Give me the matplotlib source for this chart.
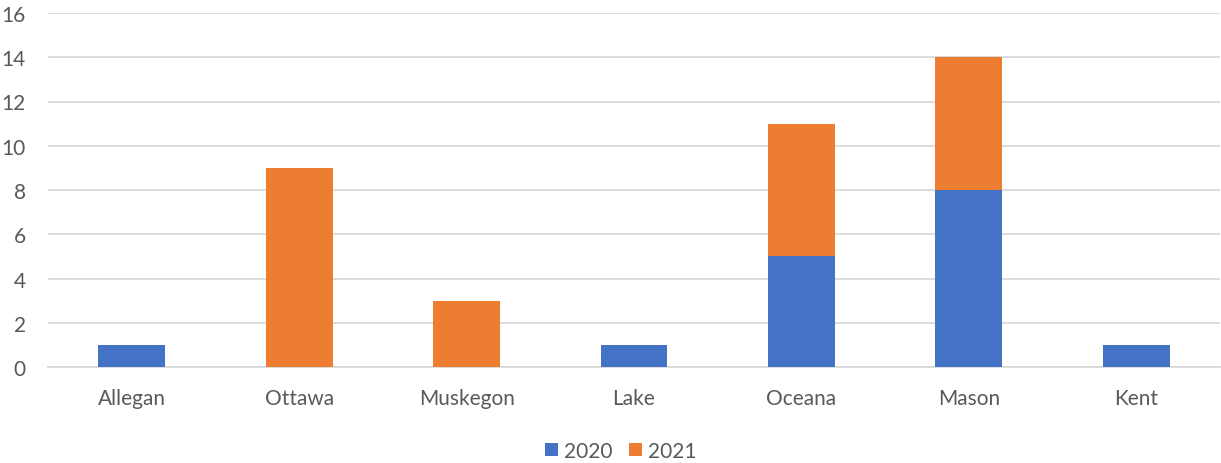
import matplotlib.pyplot as plt
import numpy as np

counties = ["Allegan", "Ottawa", "Muskegon", "Lake", "Oceana", "Mason", "Kent"]
cases_2020 = [1, 0, 0, 1, 5, 8, 1]
cases_2021 = [0, 9, 3, 0, 6, 6, 0]
series_labels = ["2020", "2021"]
colors = ["#4472C4", "#ED7D31"]

plt.rcParams['font.family'] = ['Lato', 'DejaVu Sans']

fig = plt.figure(figsize=(12.21, 4.64), dpi=100)
ax = fig.add_axes([48/1221, 1 - 368/464, (1220 - 48)/1221, (368 - 14)/464])

x = np.arange(len(counties))
w = 0.4
b1 = ax.bar(x, cases_2020, width=w, color=colors[0], label=series_labels[0], zorder=3)
b2 = ax.bar(x, cases_2021, width=w, bottom=cases_2020, color=colors[1], label=series_labels[1], zorder=3)

ax.set_xlim(-0.5, len(counties) - 0.5)
ax.set_ylim(0, 16)
ax.set_yticks(range(0, 17, 2))
ax.set_xticks(x)
ax.set_xticklabels(counties)
ax.grid(axis='y', color='#D9D9D9', linewidth=1.3, zorder=0)
for s in ['top', 'right', 'left']:
    ax.spines[s].set_visible(False)
ax.spines['bottom'].set_color('#D9D9D9')
ax.spines['bottom'].set_linewidth(1.3)
ax.tick_params(axis='both', length=0, labelsize=15, colors='#595959')
ax.tick_params(axis='x', pad=15)
ax.tick_params(axis='y', pad=16)

fig.legend(handles=[b1, b2], labels=series_labels, loc='center', bbox_to_anchor=(621/1221, 1 - 452/464),
           ncol=2, frameon=False, fontsize=15, handlelength=0.6, handleheight=0.6,
           handletextpad=0.3, columnspacing=0.8, labelcolor='#595959')

fig.savefig("out.png", dpi=100)
